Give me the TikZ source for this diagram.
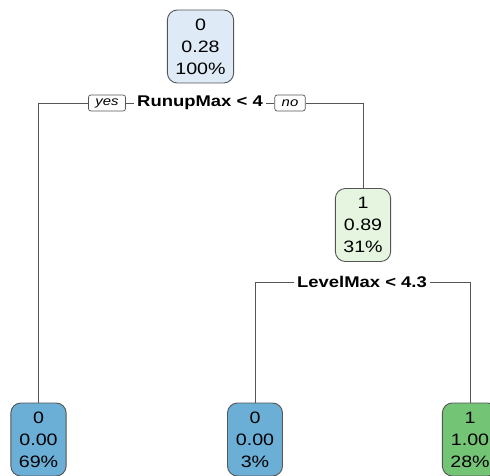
\documentclass[tikz,border=0pt]{standalone}
\usepackage{fontspec}
\setmainfont{Liberation Sans}
\newfontfamily\treefont[FakeStretch=1.19]{Liberation Sans}
\usetikzlibrary{positioning,calc}
\definecolor{rootCol}{RGB}{222,235,247}
\definecolor{zeroCol}{RGB}{107,174,214}
\definecolor{midCol}{RGB}{229,245,224}
\definecolor{oneCol}{RGB}{116,196,118}
\definecolor{lineCol}{RGB}{85,85,85}
\tikzset{
  tnode/.style={draw=lineCol,line width=0.9pt,rounded corners=10pt,align=center,
                font=\treefont\fontsize{16.5}{22}\selectfont,minimum width=55pt,minimum height=73pt,
                inner xsep=8pt,inner ysep=4pt},
  split/.style={font=\treefont\fontsize{15.5}{18}\selectfont\bfseries,inner xsep=3pt,fill=white},
  yn/.style={draw=lineCol,line width=0.7pt,rounded corners=2.5pt,fill=white,
             font=\treefont\fontsize{12.5}{13}\selectfont\itshape,inner xsep=7pt,inner ysep=1pt,
             minimum height=16pt},
  edge/.style={draw=lineCol,line width=0.9pt},
}

\begin{document}
\begin{tikzpicture}[x=1pt,y=-1pt]
    \clip (0,0) rectangle (490,476);
    % --- root and first split ---
    \node[tnode,fill=rootCol] (root) at (200.5,46.5) {0\\0.28\\100\%};
    \node[split] (s1) at (200,103) {RunupMax < 4};
    \node[yn] (yes) at (107,103) {yes};
    \node[yn] (no) at (290,103) {no};
    % --- inner node and second split ---
    \node[tnode,fill=midCol] (n2) at (363,225) {1\\0.89\\31\%};
    \node[split] (s2) at (362,282) {LevelMax < 4.3};
    % --- leaves ---
    \node[tnode,fill=zeroCol] (l1) at (38.5,439.5) {0\\0.00\\69\%};
    \node[tnode,fill=zeroCol] (l2) at (255,439.5) {0\\0.00\\3\%};
    \node[tnode,fill=oneCol] (l3) at (470,439.5) {1\\1.00\\28\%};
    % --- connectors ---
    \draw[edge] (l1.north) |- (yes.west);
    \draw[edge] (yes) -- (s1);
    \draw[edge] (s1) -- (no);
    \draw[edge] (no.east) -| (n2.north);
    \draw[edge] (l2.north) |- (s2.west);
    \draw[edge] (s2.east) -| (l3.north);
\end{tikzpicture}
\end{document}
